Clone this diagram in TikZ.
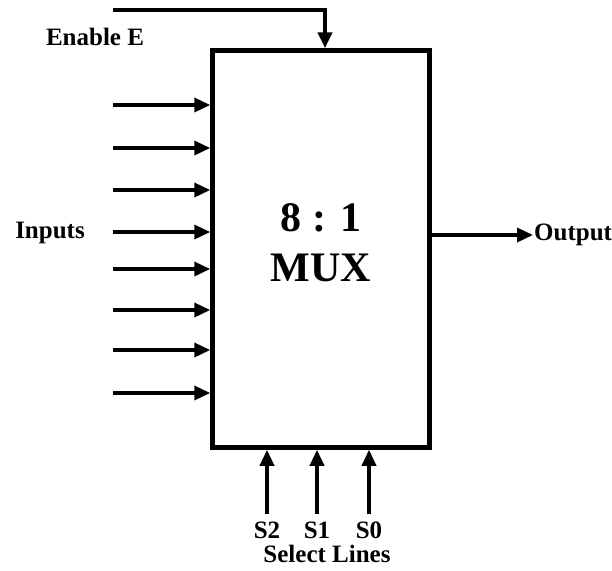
\documentclass[tikz,border=0pt]{standalone}
\usepackage{fontspec}
\setmainfont{Liberation Serif}
\usetikzlibrary{arrows.meta}
\tikzset{
  lbl/.style={font=\bfseries\fontsize{25}{28}\selectfont, inner sep=1pt},
  big/.style={font=\bfseries\fontsize{42}{46}\selectfont, inner sep=0pt},
  wire/.style={line width=3.5pt, -{Triangle[length=16pt,width=14pt]}},
  muxbox/.style={draw, line width=4.5pt, minimum width=217pt, minimum height=397pt, inner sep=0pt}
}
\begin{document}
\begin{tikzpicture}[x=1pt,y=-1pt]
\useasboundingbox (0,0) rectangle (612,570);
\node[muxbox] (box) at (321,249) {};
\node[big] (ratio) at (321,218) {8 : 1};
\node[big] (mux) at (321,268) {MUX};
% enable
\node[lbl] (en) at (95,37) {Enable E};
\coordinate (enstart) at (113,10);
\draw[line width=4.5pt, -{Triangle[length=16pt,width=14pt]}] (enstart) -| ([xshift=4pt]box.north);
% inputs
\node[lbl] (inputs) at (50,233) {Inputs};
\foreach \i/\y in {1/105,2/148,3/190,4/232,5/269,6/310,7/350,8/393}{
  \coordinate (in\i) at (113,\y);
  \draw[wire] (in\i) -- (in\i -| box.west);
}
% output
\node[lbl, anchor=west] (out) at (533,235) {Output};
\draw[wire] (out.west -| box.east) -- (out.west);
% selects
\node[lbl] (s2) at (267,530) {S2};
\node[lbl] (s1) at (317,530) {S1};
\node[lbl] (s0) at (369,530) {S0};
\node[lbl] (sel) at (327,554) {Select Lines};
\foreach \s in {s2,s1,s0}{
  \draw[wire, shorten <=6pt] (\s.north) -- (\s.north |- box.south);
}
\end{tikzpicture}
\end{document}
